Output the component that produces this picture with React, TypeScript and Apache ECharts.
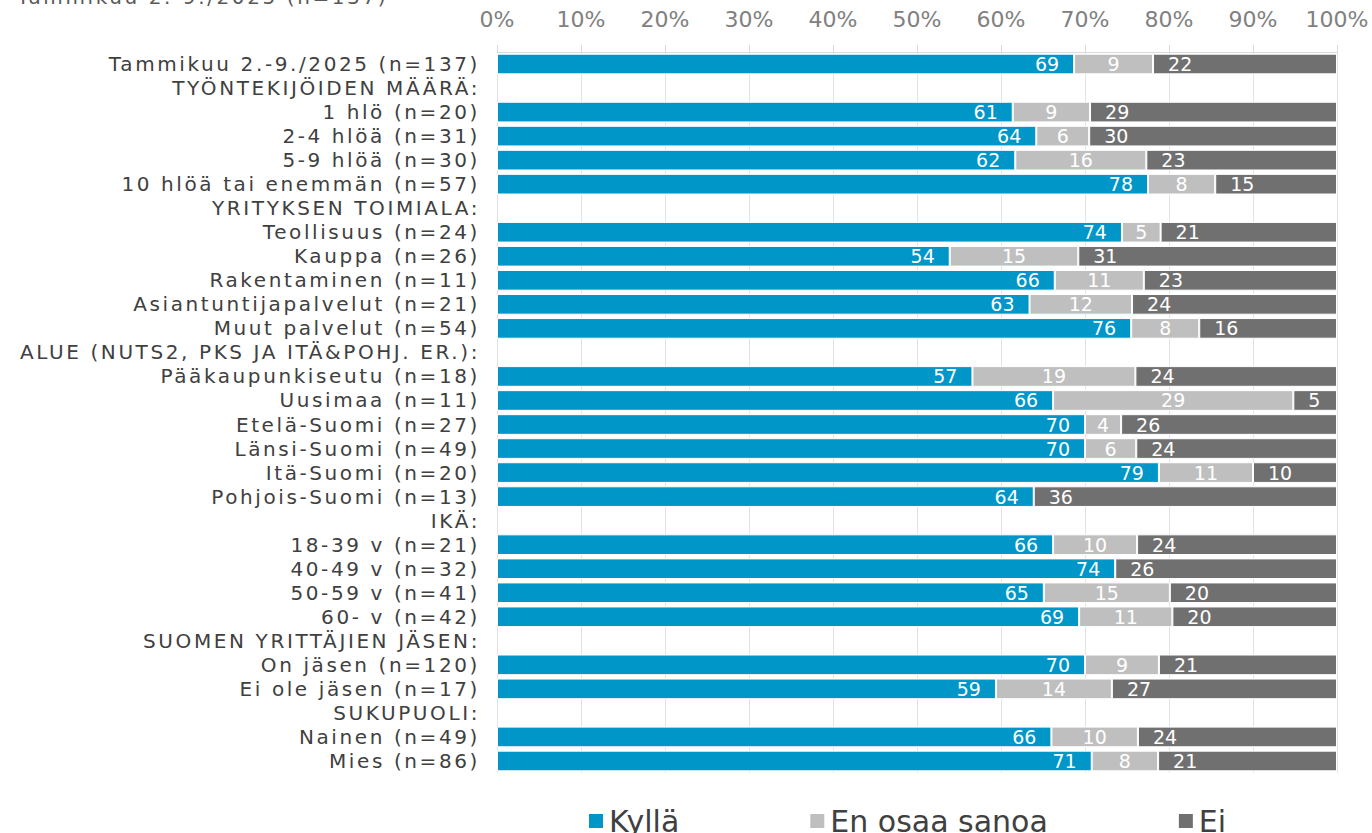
import React, { useEffect, useRef } from "react";
import * as echarts from "echarts";

const title = "Tammikuu 2.-9./2025 (n=137)";

const categories = [
  "Tammikuu 2.-9./2025 (n=137)",
  "TYÖNTEKIJÖIDEN MÄÄRÄ:",
  "1 hlö (n=20)",
  "2-4 hlöä (n=31)",
  "5-9 hlöä (n=30)",
  "10 hlöä tai enemmän (n=57)",
  "YRITYKSEN TOIMIALA:",
  "Teollisuus (n=24)",
  "Kauppa (n=26)",
  "Rakentaminen (n=11)",
  "Asiantuntijapalvelut (n=21)",
  "Muut palvelut (n=54)",
  "ALUE (NUTS2, PKS JA ITÄ&POHJ. ER.):",
  "Pääkaupunkiseutu (n=18)",
  "Uusimaa (n=11)",
  "Etelä-Suomi (n=27)",
  "Länsi-Suomi (n=49)",
  "Itä-Suomi (n=20)",
  "Pohjois-Suomi (n=13)",
  "IKÄ:",
  "18-39 v (n=21)",
  "40-49 v (n=32)",
  "50-59 v (n=41)",
  "60- v (n=42)",
  "SUOMEN YRITTÄJIEN JÄSEN:",
  "On jäsen (n=120)",
  "Ei ole jäsen (n=17)",
  "SUKUPUOLI:",
  "Nainen (n=49)",
  "Mies (n=86)",
];

const kylla = [
  68.7, null, 61.4, 64.2, 61.7, 77.5, null, 74.4, 53.9, 66.4, 63.4, 75.5, null,
  56.6, 66.2, 70.0, 70.0, 78.8, 63.9, null, 66.2, 73.6, 65.1, 69.3, null, 70.0,
  59.4, null, 66.0, 70.8,
];
const enOsaa = [
  9.4, null, 9.2, 6.3, 15.6, 8.0, null, 4.6, 15.3, 10.6, 12.2, 8.1, null,
  19.4, 28.6, 4.3, 6.1, 11.2, 0, null, 10.0, 0, 15.0, 11.1, null, 8.8,
  13.8, null, 10.3, 7.9,
];
const ei = [
  21.9, null, 29.4, 29.5, 22.7, 14.5, null, 21.0, 30.8, 23.0, 24.4, 16.4, null,
  24.0, 5.2, 25.7, 23.9, 10.0, 36.1, null, 23.8, 26.4, 19.9, 19.6, null, 21.2,
  26.8, null, 23.7, 21.3,
];

const seriesNames = ["Kyllä", "En osaa sanoa", "Ei"];
const colors = ["#0096C8", "#BFBFBF", "#707070"];
const xTicks = { min: 0, max: 100, interval: 10 };

const FONT = "DejaVu Sans";

export default function App() {
  const ref = useRef<HTMLDivElement>(null);
  useEffect(() => {
    document.body.style.margin = "0";
    if (!ref.current) return;
    const chart = echarts.init(ref.current, null, { renderer: "svg" });
    const fmt = (p: any) =>
      p.value === null || p.value === undefined || p.value === 0 || p.value === "-"
        ? ""
        : String(Math.round(p.value));
    const positions = ["insideRight", "inside", "insideLeft"];
    const datas = [kylla, enOsaa, ei];
    chart.setOption({
      animation: false,
      textStyle: { fontFamily: FONT },
      graphic: [
        {
          type: "text",
          left: 17,
          top: -13,
          style: { text: title, fontSize: 20, fill: "#595959", fontFamily: FONT },
        },
      ],
      legend: {
        data: seriesNames,
        left: 582,
        top: 801,
        itemWidth: 16,
        itemHeight: 16,
        itemGap: 129,
        icon: "rect",
        textStyle: { fontSize: 30, color: "#404040", fontFamily: FONT },
      },
      grid: { left: 497, right: 35, top: 52, bottom: 60, containLabel: false },
      xAxis: {
        type: "value",
        position: "top",
        min: xTicks.min,
        max: xTicks.max,
        interval: xTicks.interval,
        axisLine: { show: true, lineStyle: { color: "#D9D9D9", width: 1 } },
        axisTick: { show: true, length: 7, lineStyle: { color: "#D9D9D9" } },
        splitLine: { show: true, lineStyle: { color: "#E3E3E3", width: 1 } },
        axisLabel: {
          formatter: "{value}%",
          fontSize: 22,
          color: "#808080",
          margin: 22,
          fontFamily: FONT,
        },
      },
      yAxis: {
        type: "category",
        inverse: true,
        data: categories,
        axisLine: { show: false },
        axisTick: { show: false },
        axisLabel: {
          interval: 0,
          fontSize: 20,
          color: "#404040",
          margin: 17,
          fontFamily: FONT,
        },
      },
      series: seriesNames.map((name, i) => ({
        name,
        type: "bar",
        stack: "total",
        data: datas[i],
        barCategoryGap: "14%",
        itemStyle: { color: colors[i], borderColor: "#FFFFFF", borderWidth: 1 },
        label: {
          show: true,
          position: positions[i],
          formatter: fmt,
          color: "#FFFFFF",
          fontSize: 19,
          fontFamily: FONT,
          distance: 15,
        },
      })),
    });
    return () => chart.dispose();
  }, []);
  return (
    <>
      <style>{`.chart-host text[style*="20px"] { letter-spacing: 2.6px; }`}</style>
      <div className="chart-host" ref={ref} style={{ width: 1372, height: 833 }} />
    </>
  );
}
